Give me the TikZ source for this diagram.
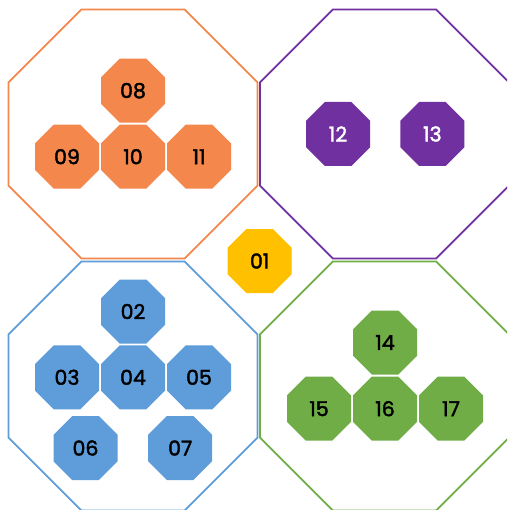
\documentclass[tikz,border=0pt]{standalone}
\usepackage{fontspec}
\setmainfont{Poppins}
\newfontfamily\numfont{Poppins}[FakeBold=2]
\usetikzlibrary{shapes.geometric}
\definecolor{corange}{HTML}{F4874B}
\definecolor{cyellow}{HTML}{FFC000}
\definecolor{cpurple}{HTML}{7030A0}
\definecolor{cblue}{HTML}{5F9DDA}
\definecolor{cgreen}{HTML}{70AD47}
\tikzset{
  bigoct/.style={regular polygon, regular polygon sides=8, minimum size=249/0.92388*1pt, inner sep=0pt, line width=1.8pt, fill=white},
  smalloct/.style={regular polygon, regular polygon sides=8, minimum size=64/0.92388*1pt, inner sep=0pt, draw=none, font=\numfont\fontsize{20.5}{20.5}\selectfont, text=black},
}
\begin{document}
\begin{tikzpicture}[x=1pt,y=-1pt]
\clip (0,0) rectangle (507,510);
\fill[white] (0,0) rectangle (507,510);
% big octagons
\node[bigoct, draw=corange] (gA) at (133,134) {};
\node[bigoct, draw=cpurple] (gB) at (384.5,134) {};
\node[bigoct, draw=cblue] (gC) at (133,386) {};
\node[bigoct, draw=cgreen] (gD) at (384.5,386) {};
% center
\node[smalloct, fill=cyellow] (n01) at (259.7,261) {01};
% orange
\node[smalloct, fill=corange] (n08) at (133,90.7) {08};
\node[smalloct, fill=corange] (n09) at (67,156.7) {09};
\node[smalloct, fill=corange] (n10) at (133,156.7) {10};
\node[smalloct, fill=corange] (n11) at (199,156.7) {11};
% purple
\node[smalloct, fill=cpurple, text=white] (n12) at (338,134) {12};
\node[smalloct, fill=cpurple, text=white] (n13) at (432.3,134) {13};
% blue
\node[smalloct, fill=cblue] (n02) at (133,311.5) {02};
\node[smalloct, fill=cblue] (n03) at (67,377.3) {03};
\node[smalloct, fill=cblue] (n04) at (133,377.3) {04};
\node[smalloct, fill=cblue] (n05) at (199,377.3) {05};
\node[smalloct, fill=cblue] (n06) at (85.5,448) {06};
\node[smalloct, fill=cblue] (n07) at (180.2,448) {07};
% green
\node[smalloct, fill=cgreen] (n14) at (385,342.5) {14};
\node[smalloct, fill=cgreen] (n15) at (319,408.7) {15};
\node[smalloct, fill=cgreen] (n16) at (385,408.7) {16};
\node[smalloct, fill=cgreen] (n17) at (451,408.7) {17};
\end{tikzpicture}
\end{document}
